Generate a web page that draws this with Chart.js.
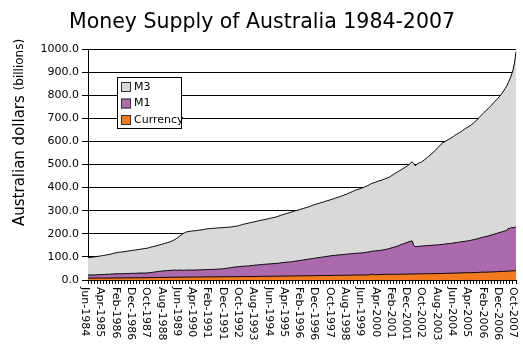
<!DOCTYPE html>
<html>
<head>
<meta charset="utf-8">
<title>Money Supply of Australia 1984-2007</title>
<script src="https://cdn.jsdelivr.net/npm/chart.js@4.4.1/dist/chart.umd.min.js"></script>
<style>
  html, body { margin: 0; padding: 0; background: #fff; }
  #wrap { position: relative; width: 523px; height: 348px; }
</style>
</head>
<body>
<div id="wrap"><canvas id="chart" width="523" height="348"></canvas></div>
<script>
// Monthly series, June 1984 to October 2007, billions of Australian dollars.
const startYear = 1984;
const startMonth = 5; // June (0-based)
const monthNames = ['Jan','Feb','Mar','Apr','May','Jun','Jul','Aug','Sep','Oct','Nov','Dec'];

const tickLabels = [
  'Jun-1984','Apr-1985','Feb-1986','Dec-1986','Oct-1987','Aug-1988','Jun-1989','Apr-1990',
  'Feb-1991','Dec-1991','Oct-1992','Aug-1993','Jun-1994','Apr-1995','Feb-1996','Dec-1996',
  'Oct-1997','Aug-1998','Jun-1999','Apr-2000','Feb-2001','Dec-2001','Oct-2002','Aug-2003',
  'Jun-2004','Apr-2005','Feb-2006','Dec-2006','Oct-2007'
];

const m3 = [
  97,98,98,99,100,101,102,
  103,104,105,106,107,108,110,111,112,114,116,117,
  119,120,121,121,122,123,124,125,126,127,128,129,
  130,131,132,133,134,135,136,137,138,140,142,144,
  145,147,148,150,152,154,156,158,160,162,164,166,
  169,172,176,180,185,190,195,200,204,207,209,210,
  211,212,213,213,214,215,216,217,218,219,220,222,
  222,223,223,224,224,225,225,226,226,227,227,228,
  228,229,229,230,231,232,233,234,236,238,240,242,
  243,245,246,248,249,251,252,254,255,257,258,260,
  261,262,264,265,267,268,270,271,273,275,277,280,
  282,284,286,288,290,292,294,296,298,300,302,304,
  306,308,310,312,314,316,318,321,324,326,328,330,
  332,334,336,338,340,342,344,346,348,350,352,355,
  357,359,361,364,366,369,371,374,377,380,383,386,
  389,391,393,395,398,400,403,406,409,412,416,419,
  421,423,426,428,430,432,435,437,440,442,445,449,
  453,458,462,466,470,474,478,482,486,490,495,500,
  506,512,505,495,500,505,508,510,515,520,525,530,
  536,542,548,553,560,567,574,581,588,594,597,601,
  605,609,613,617,621,626,630,634,638,642,647,652,
  656,660,664,668,673,678,684,690,697,704,711,718,
  725,731,737,743,750,757,765,772,779,785,793,801,
  810,820,830,841,855,870,888,908,940,988
];

const m1 = [
  22,22,22,22,22,22,23,
  23,23,24,24,24,25,25,25,26,26,26,27,
  27,27,27,27,27,28,28,28,28,29,29,29,
  29,29,30,30,30,30,30,30,31,31,32,33,
  34,35,36,37,38,38,39,40,40,41,41,42,
  42,43,43,42,42,43,43,42,42,43,43,43,
  43,43,43,43,43,44,44,44,44,45,45,45,
  45,46,46,46,46,47,47,47,48,48,49,50,
  51,52,53,54,55,56,57,57,58,59,59,60,
  60,61,61,62,63,63,64,65,65,66,67,67,
  68,68,69,69,70,70,71,71,72,72,73,74,
  75,76,76,77,78,78,79,80,81,82,83,84,
  85,86,87,88,89,90,91,92,93,94,95,96,
  97,98,99,100,101,102,103,104,105,106,106,107,
  108,108,109,110,110,111,112,112,113,114,114,115,
  115,116,116,117,117,118,119,120,121,122,124,125,
  125,126,127,127,128,129,130,131,133,134,136,138,
  140,142,144,146,148,151,154,156,158,161,163,166,
  168,169,152,144,145,146,146,147,147,148,148,149,
  149,150,150,151,151,152,152,153,154,154,155,156,
  157,158,158,159,160,161,162,163,164,165,166,167,
  168,169,170,171,173,174,176,177,179,181,183,185,
  186,188,189,191,193,195,197,199,201,203,205,207,
  209,211,213,215,224,222,228,226,227,230
];

const currency = [
  8.0,8.0,8.0,8.1,8.1,8.2,8.8,
  8.2,8.2,8.3,8.3,8.4,8.4,8.5,8.5,8.6,8.7,8.8,9.4,
  8.9,8.9,9.0,9.0,9.1,9.1,9.2,9.3,9.3,9.4,9.5,10.1,
  9.6,9.6,9.7,9.8,9.8,9.9,10.0,10.1,10.2,10.3,10.4,11.0,
  10.5,10.6,10.7,10.8,10.9,11.0,11.1,11.2,11.3,11.4,11.5,12.1,
  11.6,11.7,11.8,11.9,12.0,12.0,12.1,12.2,12.3,12.4,12.5,13.1,
  12.6,12.7,12.8,12.8,12.9,13.0,13.1,13.1,13.2,13.3,13.4,14.0,
  13.4,13.5,13.5,13.6,13.6,13.7,13.7,13.8,13.9,13.9,14.0,14.6,
  14.0,14.1,14.1,14.2,14.2,14.3,14.4,14.4,14.5,14.6,14.7,15.3,
  14.7,14.8,14.9,15.0,15.0,15.1,15.2,15.3,15.4,15.5,15.6,16.3,
  15.7,15.8,15.9,16.0,16.1,16.2,16.3,16.4,16.5,16.6,16.7,17.4,
  16.8,16.9,17.0,17.1,17.2,17.3,17.4,17.5,17.6,17.7,17.8,18.5,
  17.9,18.0,18.1,18.2,18.3,18.4,18.5,18.6,18.7,18.8,18.9,19.6,
  19.0,19.1,19.2,19.3,19.4,19.5,19.6,19.7,19.8,19.9,20.0,20.8,
  20.1,20.2,20.3,20.4,20.5,20.6,20.7,20.8,20.9,21.0,21.2,22.0,
  21.3,21.4,21.5,21.6,21.7,21.8,21.9,22.0,22.2,22.5,23.5,25.5,
  23.0,23.0,23.1,23.3,23.5,24.0,24.2,24.3,24.4,24.5,24.6,25.2,
  24.6,24.7,24.8,24.9,25.0,25.1,25.2,25.3,25.4,25.5,25.6,26.4,
  25.8,25.9,26.0,26.1,26.2,26.4,26.5,26.6,26.7,26.8,27.0,27.8,
  27.2,27.3,27.4,27.5,27.7,27.8,28.0,28.1,28.2,28.4,28.6,29.5,
  28.9,29.1,29.2,29.4,29.6,29.8,30.0,30.2,30.4,30.6,30.8,31.8,
  31.1,31.3,31.5,31.7,31.9,32.1,32.3,32.5,32.8,33.0,33.3,34.4,
  33.6,33.8,34.1,34.3,34.6,34.9,35.2,35.5,35.8,36.2,36.6,37.9,
  37.0,37.3,37.7,38.1,38.5,38.9,39.3,39.7,40.1,40.5
];

// One category per month, e.g. "Jun-1984".
const categories = m3.map((_, i) => {
  const m = startMonth + i;
  return monthNames[m % 12] + '-' + (startYear + Math.floor(m / 12));
});

const COLORS = { m3: '#d9d9d9', m1: '#ad69ad', currency: '#f47a20' };
const FONT = 'DejaVu Sans';
Chart.defaults.font.family = FONT;
Chart.defaults.color = '#000';

// Title, rotated axis labels and the boxed legend.
const decorations = {
  id: 'decorations',
  afterDraw(chart) {
    const ctx = chart.ctx;
    const area = chart.chartArea;
    const xs = chart.scales.x;
    ctx.save();
    ctx.fillStyle = '#000';

    // Title
    ctx.font = '20.5px "' + FONT + '"';
    ctx.textAlign = 'center';
    ctx.textBaseline = 'alphabetic';
    ctx.fillText('Money Supply of Australia 1984-2007', 262, 28);

    // Month labels, reading downward
    ctx.font = '11px "' + FONT + '"';
    ctx.textAlign = 'left';
    ctx.textBaseline = 'middle';
    categories.forEach((cat, i) => {
      if (!tickLabels.includes(cat)) return;
      const x = xs.getPixelForValue(i);
      ctx.save();
      ctx.translate(x - 3, area.bottom + 7);
      ctx.rotate(Math.PI / 2);
      ctx.fillText(cat, 0, 0);
      ctx.restore();
    });

    // Vertical axis title in two sizes
    ctx.save();
    ctx.translate(20, 226);
    ctx.rotate(-Math.PI / 2);
    ctx.textAlign = 'left';
    ctx.textBaseline = 'middle';
    ctx.font = '15px "' + FONT + '"';
    const main = 'Australian dollars ';
    ctx.fillText(main, 0, 0);
    const w = ctx.measureText(main).width;
    ctx.font = '12px "' + FONT + '"';
    ctx.fillText('(billions)', w, 0);
    ctx.restore();

    // Legend
    const lx = 117.5, ly = 77.5, lw = 64, lh = 51;
    ctx.fillStyle = '#fff';
    ctx.fillRect(lx, ly, lw, lh);
    ctx.strokeStyle = '#000';
    ctx.lineWidth = 1;
    ctx.strokeRect(lx, ly, lw, lh);
    const order = [chart.data.datasets[2], chart.data.datasets[1], chart.data.datasets[0]];
    ctx.font = '11px "' + FONT + '"';
    ctx.textAlign = 'left';
    ctx.textBaseline = 'middle';
    order.forEach((ds, k) => {
      const cy = 87 + k * 16.5;
      ctx.fillStyle = ds.backgroundColor;
      ctx.fillRect(121, cy - 5, 10, 10);
      ctx.strokeStyle = '#333';
      ctx.strokeRect(121.5, cy - 4.5, 9, 9);
      ctx.fillStyle = '#000';
      ctx.fillText(ds.label, 134, cy);
    });
    ctx.restore();
  }
};

const areaSeries = (label, data, color) => ({
  label, data,
  backgroundColor: color,
  borderColor: '#000',
  borderWidth: 1,
  fill: 'origin',
  pointRadius: 0,
  tension: 0
});

new Chart(document.getElementById('chart'), {
  type: 'line',
  data: {
    labels: categories,
    datasets: [
      areaSeries('Currency', currency, COLORS.currency),
      areaSeries('M1', m1, COLORS.m1),
      areaSeries('M3', m3, COLORS.m3)
    ]
  },
  options: {
    responsive: false,
    animation: false,
    devicePixelRatio: 1,
    layout: { padding: { left: 0, right: 7, top: 49, bottom: 0 } },
    plugins: {
      legend: { display: false },
      title: { display: false },
      tooltip: { enabled: false }
    },
    scales: {
      x: {
        type: 'category',
        offset: false,
        z: 1,
        afterFit: s => { s.height = 68; },
        grid: {
          drawOnChartArea: false,
          drawTicks: true,
          tickLength: 4,
          color: c => (c.index % 2 === 0 ? '#000' : 'rgba(0,0,0,0)')
        },
        border: { display: true, color: '#000', width: 1 },
        ticks: { autoSkip: false, maxRotation: 0, minRotation: 0, padding: 0, callback: () => '' }
      },
      y: {
        min: 0,
        max: 1000,
        z: 1,
        afterFit: s => { s.width = 88; },
        grid: { color: '#000', lineWidth: 1, tickLength: 6 },
        border: { display: true, color: '#000', width: 1 },
        ticks: {
          stepSize: 100,
          padding: 3,
          color: '#000',
          font: { size: 11, family: FONT },
          callback: v => v.toFixed(1)
        }
      }
    }
  },
  plugins: [decorations]
});
</script>
</body>
</html>
